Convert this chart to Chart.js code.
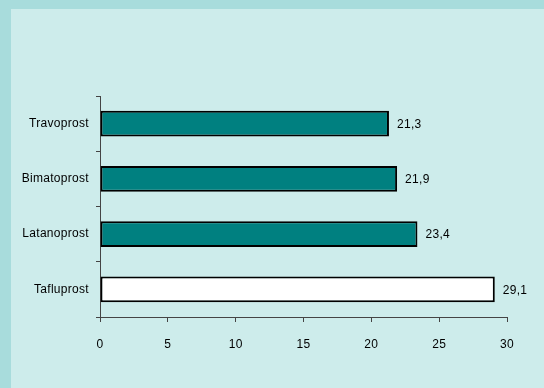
<!DOCTYPE html>
<html>
<head>
<meta charset="utf-8">
<script src="https://cdn.jsdelivr.net/npm/chart.js@4.4.1/dist/chart.umd.min.js"></script>
<style>
  html, body { margin:0; padding:0; }
  body { width:544px; height:388px; background:#a8dcdc; position:relative; overflow:hidden; }
  #wrap { position:absolute; left:11px; top:9px; width:533px; height:379px; background:#cdeceb; }
  canvas { position:absolute; left:0; top:0; }
</style>
</head>
<body>
<div id="wrap"><canvas id="c" width="533" height="379"></canvas></div>
<script>
const categories = ['Travoprost', 'Bimatoprost', 'Latanoprost', 'Tafluprost'];
const values = [21.3, 21.9, 23.4, 29.1];
const barColors = ['#008080', '#008080', '#008080', '#ffffff'];
const xTicks = [0, 5, 10, 15, 20, 25, 30];

const FONT = '"Liberation Sans", Arial, sans-serif';

const spacing = {
  id: 'spacing',
  beforeDraw(chart) { chart.ctx.letterSpacing = '0.3px'; }
};

const valueLabels = {
  id: 'valueLabels',
  afterDatasetsDraw(chart) {
    const ctx = chart.ctx;
    const meta = chart.getDatasetMeta(0);
    ctx.save();
    ctx.font = '12px ' + FONT;
    ctx.fillStyle = '#000';
    ctx.textAlign = 'left';
    ctx.textBaseline = 'middle';
    meta.data.forEach((bar, i) => {
      const txt = values[i].toFixed(1).replace('.', ',');
      ctx.fillText(txt, bar.x + 8, bar.y + 1);
    });
    ctx.restore();
  }
};

new Chart(document.getElementById('c'), {
  type: 'bar',
  data: {
    labels: categories,
    datasets: [{
      data: values,
      backgroundColor: barColors,
      borderColor: '#000',
      borderWidth: 2,
      borderSkipped: false,
      barPercentage: 0.47,
      categoryPercentage: 1
    }]
  },
  options: {
    indexAxis: 'y',
    responsive: false,
    animation: false,
    layout: { padding: { top: 87, right: 37, left: 0, bottom: 0 } },
    plugins: { legend: { display: false }, tooltip: { enabled: false } },
    scales: {
      x: {
        min: 0, max: 30,
        afterBuildTicks(axis) { axis.ticks = xTicks.map(v => ({ value: v })); },
        grid: { drawOnChartArea: false, drawTicks: true, tickLength: 5, color: '#444', tickColor: '#444' },
        border: { color: '#444', width: 1 },
        ticks: { color: '#000', font: { family: FONT, size: 12 }, padding: 15, maxRotation: 0 },
        afterFit(axis) { axis.height = 71; }
      },
      y: {
        grid: { drawOnChartArea: false, drawTicks: true, tickLength: 4, color: '#444', tickColor: '#444', offset: true },
        border: { color: '#444', width: 1 },
        ticks: { color: '#000', font: { family: FONT, size: 12 }, padding: 7 },
        afterFit(axis) { axis.width = 89; }
      }
    }
  },
  plugins: [spacing, valueLabels]
});
</script>
</body>
</html>
